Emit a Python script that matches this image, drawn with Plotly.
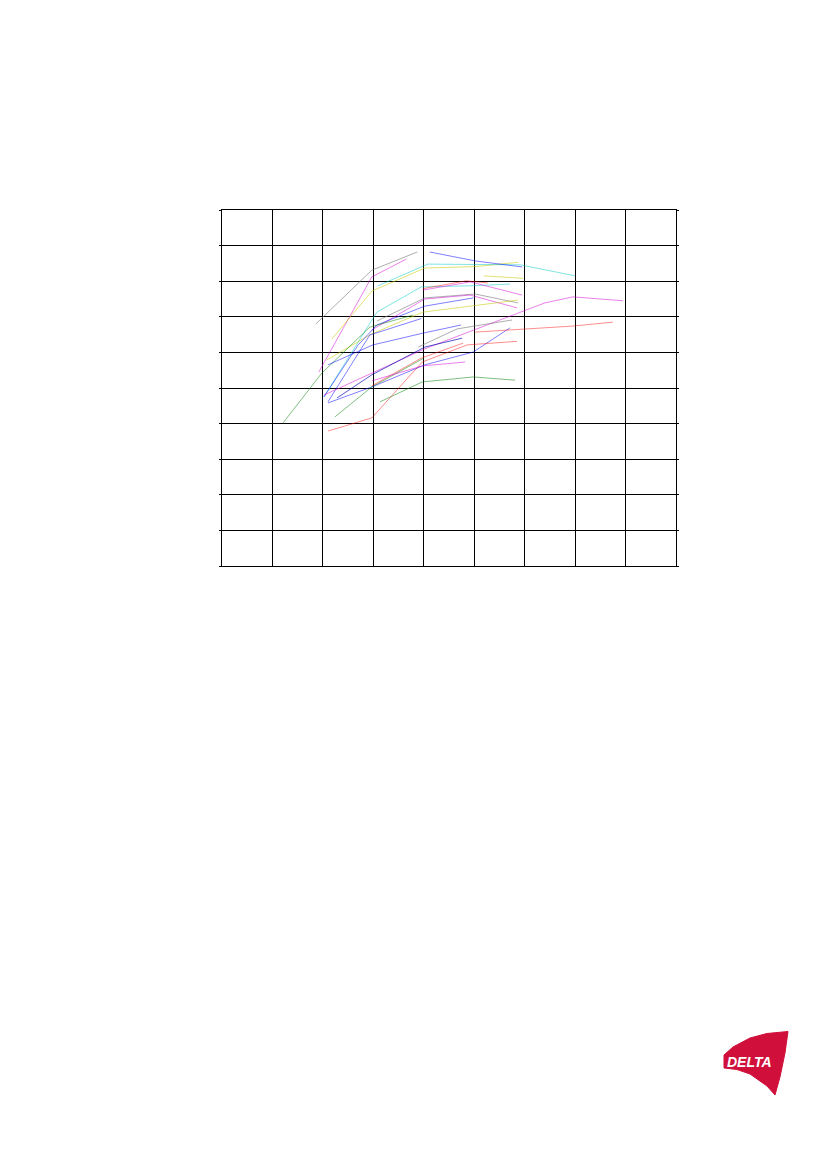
import plotly.graph_objects as go

# ---- data (grid units: x 0..9, y 0..10) ----
gray1_x = [1.86, 2.97, 3.87]
gray1_y = [6.80, 8.31, 8.82]
magenta1_x = [1.92, 2.97, 3.65]
magenta1_y = [5.45, 8.12, 8.62]
yellow1_x = [2.18, 2.97, 4.02, 5.02, 5.87]
yellow1_y = [6.38, 7.72, 8.37, 8.41, 8.53]
cyan1_x = [3.09, 4.08, 5.91, 7.00]
cyan1_y = [7.87, 8.48, 8.46, 8.15]
blue1_x = [4.12, 5.02, 5.95]
blue1_y = [8.82, 8.57, 8.40]
yellow2_x = [5.19, 5.97]
yellow2_y = [8.15, 8.08]
cyan2_x = [2.02, 3.07, 3.95, 4.92, 5.71]
cyan2_y = [4.75, 7.13, 7.84, 7.87, 7.92]
red1_x = [3.98, 4.84, 5.27]
red1_y = [7.79, 8.01, 7.95]
magenta2_x = [3.98, 4.92, 5.95]
magenta2_y = [7.75, 7.98, 7.61]
gray2_x = [3.07, 4.02, 5.02, 5.87]
gray2_y = [6.88, 7.53, 7.64, 7.39]
magenta3_x = [2.97, 4.02, 4.92, 5.85]
magenta3_y = [6.63, 7.50, 7.61, 7.25]
yellow3_x = [2.08, 2.97, 3.98, 5.87]
yellow3_y = [5.79, 6.52, 7.13, 7.47]
blue2_x = [2.02, 2.70, 3.07, 4.02, 4.98]
blue2_y = [4.75, 6.21, 6.77, 7.30, 7.53]
blue5_x = [2.10, 2.93, 3.95]
blue5_y = [4.61, 6.49, 6.95]
green1_x = [1.21, 1.98, 2.93, 3.79]
green1_y = [4.02, 5.42, 6.71, 7.05]
blue3_x = [2.10, 2.99, 3.98, 4.74]
blue3_y = [5.65, 6.21, 6.54, 6.77]
magenta4_x = [2.02, 2.97, 4.02, 5.51, 6.40, 6.96, 7.95]
magenta4_y = [4.80, 5.42, 6.10, 6.91, 7.39, 7.56, 7.45]
blue4_x = [2.10, 2.97, 4.02, 4.98, 5.71]
blue4_y = [4.58, 5.03, 5.65, 6.01, 6.69]
red2_x = [2.10, 2.97, 3.97, 4.86, 5.85]
red2_y = [3.79, 4.16, 5.73, 6.21, 6.31]
red3_x = [5.02, 6.40, 6.96, 7.75]
red3_y = [6.57, 6.69, 6.74, 6.85]
gray3_x = [3.89, 4.66, 5.75]
gray3_y = [6.15, 6.66, 6.91]
navy_x = [2.28, 2.97, 4.02, 4.76]
navy_y = [4.72, 5.37, 6.15, 6.40]
green2_x = [2.24, 2.97, 4.00]
green2_y = [4.19, 5.03, 5.84]
red4_x = [2.97, 3.95, 4.78]
red4_y = [5.06, 5.84, 6.26]
magenta5_x = [2.97, 3.97, 4.82]
magenta5_y = [5.20, 5.62, 5.73]
green3_x = [3.13, 3.97, 4.98, 5.81]
green3_y = [4.61, 5.17, 5.31, 5.22]

GRAY = "rgba(120,120,120,0.6)"
MAG = "rgba(215,0,215,0.5)"
YEL = "rgba(200,200,0,0.55)"
CYA = "rgba(0,200,200,0.5)"
BLU = "rgba(0,0,255,0.5)"
RED = "rgba(255,0,0,0.45)"
GRN = "rgba(0,128,0,0.5)"
NAV = "rgba(0,0,170,0.65)"

series = [
    (gray1_x, gray1_y, GRAY), (magenta1_x, magenta1_y, MAG),
    (yellow1_x, yellow1_y, YEL), (cyan1_x, cyan1_y, CYA),
    (blue1_x, blue1_y, BLU), (yellow2_x, yellow2_y, YEL),
    (cyan2_x, cyan2_y, CYA), (red1_x, red1_y, RED),
    (magenta2_x, magenta2_y, MAG), (gray2_x, gray2_y, GRAY),
    (magenta3_x, magenta3_y, MAG), (yellow3_x, yellow3_y, YEL),
    (blue2_x, blue2_y, BLU), (blue5_x, blue5_y, BLU),
    (green1_x, green1_y, GRN), (blue3_x, blue3_y, BLU),
    (magenta4_x, magenta4_y, MAG), (blue4_x, blue4_y, BLU),
    (red2_x, red2_y, RED), (red3_x, red3_y, RED),
    (gray3_x, gray3_y, GRAY), (navy_x, navy_y, NAV),
    (green2_x, green2_y, GRN), (red4_x, red4_y, RED),
    (magenta5_x, magenta5_y, MAG), (green3_x, green3_y, GRN),
]

fig = go.Figure()
for xs, ys, col in series:
    fig.add_trace(go.Scatter(x=xs, y=ys, mode="lines",
                             line=dict(color=col, width=1),
                             hoverinfo="skip", showlegend=False))

OFF = 8                      # default page body margin
W, H = 827 - OFF, 1169 - OFF
PX0, PX1, PY0, PY1 = 222, 676, 210, 566   # plot area in page pixels
L, T = PX0 - OFF, PY0 - OFF
PW, PH = PX1 - PX0, PY1 - PY0
R, B = W - L - PW, H - T - PH


def px(xp, yp):
    return (xp - PX0) / PW, (PY1 - yp) / PH


logo_pts = [(724, 1055), (733, 1047), (750, 1038), (767, 1033.5), (788, 1031.5),
            (785, 1053), (780, 1077), (775, 1095),
            (767, 1086), (750, 1074), (737, 1069.5), (724, 1068)]
path = ""
for i, (a, b) in enumerate(logo_pts):
    u, v = px(a, b)
    path += ("M" if i == 0 else "L") + f"{u:.5f},{v:.5f} "
path += "Z"

fig.add_shape(type="path", xref="paper", yref="paper", path=path, layer="below",
              fillcolor="#d0103a", line=dict(color="#d0103a", width=1))
tx, ty = px(749, 1062)
fig.add_annotation(x=tx, y=ty, xref="paper", yref="paper", showarrow=False,
                   xanchor="center", yanchor="middle",
                   text="<b><i>DELTA</i></b>",
                   font=dict(family="Liberation Sans", size=14, color="white"))

fig.update_xaxes(range=[0, 9], dtick=1, tick0=0, showgrid=True, gridcolor="black",
                 gridwidth=1, showline=True, linecolor="black", linewidth=1,
                 mirror=True, showticklabels=False, zeroline=False,
                 ticks="inside", ticklen=4, tickcolor="black")
fig.update_yaxes(range=[0, 10], dtick=1, tick0=0, showgrid=True, gridcolor="black",
                 gridwidth=1, showline=True, linecolor="black", linewidth=1,
                 mirror="ticks", showticklabels=False, zeroline=False,
                 ticks="outside", ticklen=2, tickcolor="black")
fig.update_layout(width=W, height=H, margin=dict(l=L, r=R, t=T, b=B),
                  plot_bgcolor="white", paper_bgcolor="white", showlegend=False)
fig.write_html("out.html")
